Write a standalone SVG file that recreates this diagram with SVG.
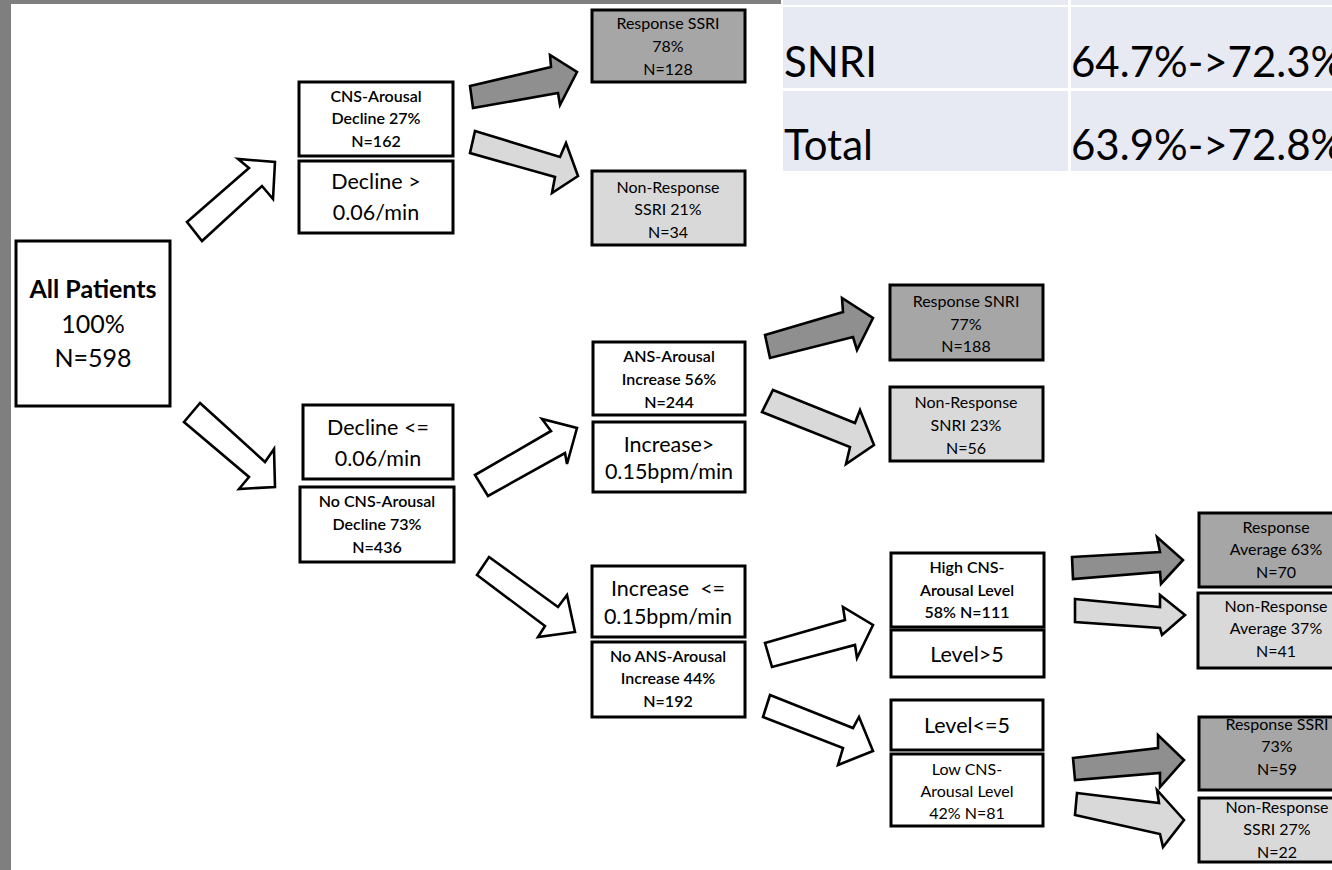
<svg xmlns="http://www.w3.org/2000/svg" width="1332" height="870" viewBox="0 0 1332 870">
<style>
.bx{fill:#fff;stroke:#000;stroke-width:3}
.dk{fill:#a6a6a6;stroke:#000;stroke-width:3}
.lt{fill:#d9d9d9;stroke:#000;stroke-width:3}
.ar{stroke:#000;stroke-width:2.6;stroke-linejoin:miter}
.aw{fill:#fff}
.ad{fill:#8f8f8f}
.al{fill:#d9d9d9}
text{font-family:Lato,"Open Sans","Liberation Sans",sans-serif;text-anchor:middle;fill:#000}
.s{font-size:16px}
.sb{font-size:16px;font-weight:600}
.m{font-size:21.5px}
.l{font-size:25px}
.lb{font-size:25px;font-weight:700}
.tb{font-size:42px;text-anchor:start}
</style>
<rect x="0" y="0" width="1332" height="870" fill="#fff"/>
<g id="frame">
<rect x="0" y="0" width="11" height="870" fill="#7f7f7f"/>
<rect x="0" y="0" width="781" height="4" fill="#7f7f7f"/>
</g>
<g id="table">
<rect x="783" y="0" width="549" height="171" fill="#e8eaf3"/>
<rect x="783" y="5" width="549" height="2" fill="#fff"/>
<rect x="783" y="88" width="549" height="3" fill="#fff"/>
<rect x="1068" y="0" width="3" height="171" fill="#fff"/>
<text class="tb" x="784" y="77">SNRI</text>
<text class="tb" x="1071" y="77">64.7%-&gt;72.3%</text>
<text class="tb" x="784" y="160">Total</text>
<text class="tb" x="1071" y="160">63.9%-&gt;72.8%</text>
</g>
<g id="connectors">
<polygon class="ar aw" points="187,222 249,168 238,159 275,162 273,199 262,186 202,241"/>
<polygon class="ar aw" points="200,403 265,462 274,449 275,487 239,489 249,477 184,422"/>
<polygon class="ar aw" points="475,475 551,431 542,419 577,428 567,464 565,453 488,496"/>
<polygon class="ar aw" points="489,557 558,607 567,595 575,632 538,637 545,626 477,575"/>
<polygon class="ar ad" points="470,86 551,67 550,55 577,72 560,105 558,93 473,108"/>
<polygon class="ar al" points="475,131 560,157 566,143 578,176 552,193 555,177 470,153"/>
<polygon class="ar ad" points="765,335 843,312 842,298 873,318 857,350 853,337 770,358"/>
<polygon class="ar al" points="773,390 855,423 860,410 874,445 846,464 850,447 762,412"/>
<polygon class="ar aw" points="765,643 845,620 843,607 873,625 857,658 855,645 772,667"/>
<polygon class="ar aw" points="770,695 853,728 859,717 873,751 838,765 843,748 763,717"/>
<polygon class="ar ad" points="1072,557 1160,552 1157,537 1183,560 1161,584 1160,572 1073,579"/>
<polygon class="ar al" points="1075,599 1160,607 1160,595 1185,615 1162,635 1160,628 1075,622"/>
<polygon class="ar ad" points="1073,758 1158,748 1158,735 1184,760 1160,787 1160,773 1075,780"/>
<polygon class="ar al" points="1077,793 1159,803 1157,790 1184,820 1163,847 1160,834 1075,815"/>
</g>
<g id="all-patients">
<rect class="bx" x="16" y="241" width="154" height="165"/>
<text class="lb" x="93" y="298">All Patients</text>
<text class="l" x="93" y="333">100%</text>
<text class="l" x="93" y="367">N=598</text>
</g>
<g id="cns-decline">
<rect class="bx" x="299" y="82" width="154" height="74"/>
<text class="sb" x="376" y="102">CNS-Arousal</text>
<text class="sb" x="376" y="124">Decline 27%</text>
<text class="sb" x="376" y="147">N=162</text>
</g>
<g id="decline-gt">
<rect class="bx" x="299" y="161" width="154" height="72"/>
<text class="m" x="376" y="189">Decline &gt;</text>
<text class="m" x="376" y="220">0.06/min</text>
</g>
<g id="response-ssri-1">
<rect class="dk" x="592" y="10" width="153" height="72"/>
<text class="s" x="668" y="29">Response SSRI</text>
<text class="s" x="668" y="52">78%</text>
<text class="s" x="668" y="75">N=128</text>
</g>
<g id="nonresponse-ssri-1">
<rect class="lt" x="592" y="171" width="153" height="74"/>
<text class="s" x="668" y="193">Non-Response</text>
<text class="s" x="668" y="215">SSRI 21%</text>
<text class="s" x="668" y="238">N=34</text>
</g>
<g id="decline-le">
<rect class="bx" x="303" y="405" width="150" height="74"/>
<text class="m" x="378" y="435">Decline &lt;=</text>
<text class="m" x="378" y="466">0.06/min</text>
</g>
<g id="no-cns-decline">
<rect class="bx" x="300" y="487" width="154" height="75"/>
<text class="sb" x="377" y="507">No CNS-Arousal</text>
<text class="sb" x="377" y="530">Decline 73%</text>
<text class="sb" x="377" y="553">N=436</text>
</g>
<g id="ans-increase">
<rect class="bx" x="593" y="342" width="152" height="73"/>
<text class="sb" x="669" y="362">ANS-Arousal</text>
<text class="sb" x="669" y="385">Increase 56%</text>
<text class="sb" x="669" y="408">N=244</text>
</g>
<g id="increase-gt">
<rect class="bx" x="593" y="422" width="152" height="70"/>
<text class="m" x="669" y="452">Increase&gt;</text>
<text class="m" x="669" y="479">0.15bpm/min</text>
</g>
<g id="increase-le">
<rect class="bx" x="592" y="566" width="153" height="71"/>
<text class="m" x="668" y="596" xml:space="preserve">Increase  &lt;=</text>
<text class="m" x="668" y="624">0.15bpm/min</text>
</g>
<g id="no-ans-increase">
<rect class="bx" x="592" y="642" width="153" height="75"/>
<text class="sb" x="668" y="662">No ANS-Arousal</text>
<text class="sb" x="668" y="684">Increase 44%</text>
<text class="sb" x="668" y="707">N=192</text>
</g>
<g id="response-snri">
<rect class="dk" x="890" y="285" width="153" height="75"/>
<text class="s" x="966" y="307">Response SNRI</text>
<text class="s" x="966" y="330">77%</text>
<text class="s" x="966" y="352">N=188</text>
</g>
<g id="nonresponse-snri">
<rect class="lt" x="890" y="387" width="153" height="74"/>
<text class="s" x="966" y="408">Non-Response</text>
<text class="s" x="966" y="431">SNRI 23%</text>
<text class="s" x="966" y="454">N=56</text>
</g>
<g id="high-cns">
<rect class="bx" x="891" y="553" width="153" height="74"/>
<text class="sb" x="967" y="573">High CNS-</text>
<text class="sb" x="967" y="596">Arousal Level</text>
<text class="sb" x="967" y="618">58% N=111</text>
</g>
<g id="level-gt">
<rect class="bx" x="891" y="630" width="153" height="47"/>
<text class="m" x="967" y="662">Level&gt;5</text>
</g>
<g id="level-le">
<rect class="bx" x="891" y="700" width="152" height="50"/>
<text class="m" x="967" y="733">Level&lt;=5</text>
</g>
<g id="low-cns">
<rect class="bx" x="891" y="754" width="152" height="72"/>
<text class="s" x="967" y="775">Low CNS-</text>
<text class="s" x="967" y="797">Arousal Level</text>
<text class="s" x="967" y="819">42% N=81</text>
</g>
<g id="response-average">
<rect class="dk" x="1199" y="513" width="155" height="74"/>
<text class="s" x="1276" y="533">Response</text>
<text class="s" x="1276" y="555">Average 63%</text>
<text class="s" x="1276" y="578">N=70</text>
</g>
<g id="nonresponse-average">
<rect class="lt" x="1198" y="593" width="156" height="75"/>
<text class="s" x="1276" y="612">Non-Response</text>
<text class="s" x="1276" y="634">Average 37%</text>
<text class="s" x="1276" y="657">N=41</text>
</g>
<g id="response-ssri-2">
<rect class="dk" x="1199" y="717" width="155" height="73"/>
<text class="s" x="1277" y="730">Response SSRI</text>
<text class="s" x="1277" y="752">73%</text>
<text class="s" x="1277" y="775">N=59</text>
</g>
<g id="nonresponse-ssri-2">
<rect class="lt" x="1199" y="798" width="155" height="64"/>
<text class="s" x="1277" y="813">Non-Response</text>
<text class="s" x="1277" y="835">SSRI 27%</text>
<text class="s" x="1277" y="858">N=22</text>
</g>
</svg>
